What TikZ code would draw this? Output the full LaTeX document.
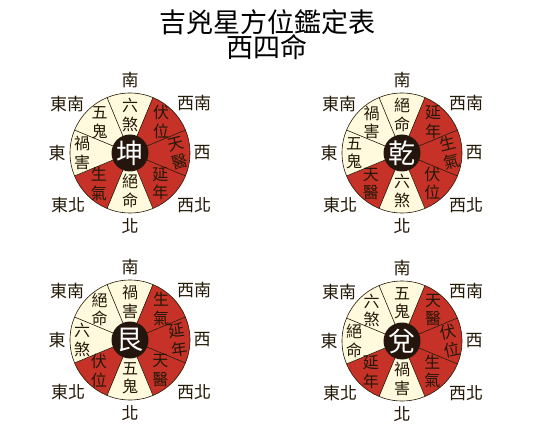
\documentclass[tikz,border=0pt]{standalone}
\usepackage{fontspec}
\setmainfont{Noto Sans CJK TC}
\definecolor{jired}{RGB}{198,50,40}
\definecolor{xiongcream}{RGB}{255,250,222}
\definecolor{zhongbrown}{RGB}{36,22,12}
\definecolor{inkbrown}{RGB}{35,24,6}

\tikzset{
  pan line/.style={draw=inkbrown, line width=0.6pt},
  fangwei/.style={font=\fontsize{17}{17}\selectfont, text=inkbrown, inner sep=0pt},
  xingming/.style={font=\fontsize{16}{18.5}\selectfont, align=center, text=inkbrown, inner sep=0pt},
  zhaizhu/.style={circle, fill=zhongbrown, minimum size=37pt, inner sep=0pt, text=white, font=\fontsize{27}{27}\selectfont},
}

% #1 name, #2 x, #3 y, #4 gua, #5 sectors (angle/text/fill/rotate/distance)
\newcommand{\mingpan}[5]{%
  \begin{scope}[shift={(#2,#3)}]
    \foreach \ang/\txt/\col/\rot/\dist in {#5} {
      \fill[\col] (0,0) -- ({\ang-22.5}:60) arc[start angle=\ang-22.5, delta angle=45, radius=60] -- cycle;
    }
    \foreach \ang/\txt/\col/\rot/\dist in {#5} {
      \draw[pan line] (0,0) -- ({\ang-22.5}:60);
      \node[xingming, rotate=\rot] (#1-\ang) at (\ang:\dist) {\txt};
    }
    \draw[pan line] (0,0) circle[radius=60];
    \node[zhaizhu] (#1) at (0,0) {#4};
    % directions
    \foreach \dx/\dy/\fw/\nm in {0/73/南/s, 64/50/西南/sw, 72/0/西/w, 64/-52/西北/nw,
                                 0/-73/北/n, -62/-52/東北/ne, -73/0/東/e, -63/49/東南/se} {
      \node[fangwei] (#1-\nm) at (\dx,\dy) {\fw};
    }
  \end{scope}}

\begin{document}
\begin{tikzpicture}[x=1pt,y=1pt]
    \useasboundingbox (0,0) rectangle (554,445);

    % Title
    \node[font=\fontsize{27}{27}\selectfont, inner sep=0pt] (biaoti) at (267,423) {吉兇星方位鑑定表};
    \node[font=\fontsize{27}{27}\selectfont, inner sep=0pt] (minggua) at (267,398) {西四命};

    % Kun
    \mingpan{kun}{130}{292}{坤}{90/六\\煞/xiongcream/0/38, 45/伏\\位/jired/0/44, 0/天\\醫/jired/14/48,
      -45/延\\年/jired/0/43, -90/絕\\命/xiongcream/0/38, -135/生\\氣/jired/0/44,
      180/禍\\害/xiongcream/0/48, 135/五\\鬼/xiongcream/0/43}

    % Qian
    \mingpan{qian}{402}{292}{乾}{90/絕\\命/xiongcream/0/38, 45/延\\年/jired/0/44, 0/生\\氣/jired/14/48,
      -45/伏\\位/jired/0/43, -90/六\\煞/xiongcream/0/38, -135/天\\醫/jired/0/44,
      180/五\\鬼/xiongcream/0/48, 135/禍\\害/xiongcream/0/43}

    % Gen
    \mingpan{gen}{130}{105}{艮}{90/禍\\害/xiongcream/0/38, 45/生\\氣/jired/0/44, 0/延\\年/jired/8/48,
      -45/天\\醫/jired/0/43, -90/五\\鬼/xiongcream/0/38, -135/伏\\位/jired/0/44,
      180/六\\煞/xiongcream/0/48, 135/絕\\命/xiongcream/0/43}

    % Dui
    \mingpan{dui}{402}{104}{兌}{90/五\\鬼/xiongcream/0/38, 45/天\\醫/jired/0/44, 0/伏\\位/jired/12/48,
      -45/生\\氣/jired/0/43, -90/禍\\害/xiongcream/0/38, -135/延\\年/jired/0/44,
      180/絕\\命/xiongcream/0/48, 135/六\\煞/xiongcream/0/43}
\end{tikzpicture}
\end{document}
